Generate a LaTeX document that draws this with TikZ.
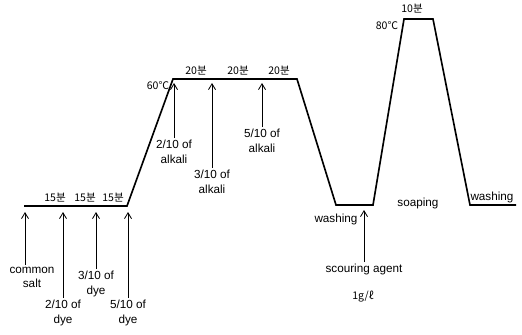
\documentclass[tikz,border=0pt]{standalone}
\usepackage{fontspec}
\setmainfont{Liberation Sans}
\newfontfamily\kr{Noto Sans CJK KR}
\usetikzlibrary{arrows.meta}

\begin{document}
\begin{tikzpicture}[x=0.03cm,y=-0.03cm,
  profile/.style={line width=1.4pt,line join=miter},
  feed/.style={line width=0.6pt,-{Straight Barb[length=5pt,width=6pt,line width=0.7pt]}},
  note/.style={font=\fontsize{10}{12.5}\selectfont,align=center,anchor=north,inner sep=1.5pt},
  stamp/.style={font=\kr\fontsize{9}{10}\selectfont,inner sep=0pt},
]
\useasboundingbox (0,0) rectangle (522,335);

% === temperature / time profile ===
\coordinate (p0) at (24,206);
\coordinate (p1) at (127,206);
\coordinate (p2) at (173,79);
\coordinate (p3) at (297,79);
\coordinate (p4) at (336,205);
\coordinate (p5) at (373,205);
\coordinate (p6) at (404,19);
\coordinate (p7) at (433,19);
\coordinate (p8) at (470,205);
\coordinate (p9) at (516,205);
\draw[profile] (p0) -- (p1) -- (p2) -- (p3) -- (p4) -- (p5) -- (p6) -- (p7) -- (p8) -- (p9);

% times and temperatures
\node[stamp] (t1) at (55,198) {15분};
\node[stamp] (t2) at (85,198) {15분};
\node[stamp] (t3) at (113,198) {15분};
\node[stamp] (t4) at (196,71) {20분};
\node[stamp] (t5) at (238,71) {20분};
\node[stamp] (t6) at (279,71) {20분};
\node[stamp] (t7) at (412,9) {10분};
\node[stamp] (c1) at (158,86) {60℃};
\node[stamp] (c2) at (387,26) {80℃};

% === dyeing bath: salt and dye ===
\coordinate (d0) at (25,212);
\coordinate (d1) at (63,212);
\coordinate (d2) at (96,212);
\coordinate (d3) at (128,212);
\node[note] (salt) at (32,265) {common\\salt};
\node[note] (dye2) at (63,298) {2/10 of\\dye};
\node[note] (dye3) at (96,269) {3/10 of\\dye};
\node[note] (dye5) at (128,298) {5/10 of\\dye};
\draw[feed] (d0 |- salt.north) -- (d0);
\draw[feed] (dye2.north) -- (d1);
\draw[feed] (dye3.north) -- (d2);
\draw[feed] (dye5.north) -- (d3);

% === alkali additions ===
\coordinate (a1) at (174,83);
\coordinate (a2) at (212,83);
\coordinate (a3) at (262,83);
\node[note] (alk2) at (174,138) {2/10 of\\alkali};
\node[note] (alk3) at (212,168) {3/10 of\\alkali};
\node[note] (alk5) at (262,127) {5/10 of\\alkali};
\draw[feed] (alk2.north) -- (a1);
\draw[feed] (alk3.north) -- (a2);
\draw[feed] (alk5.north) -- (a3);

% === after-treatment ===
\coordinate (s1) at (364,210);
\node[note] (scour) at (364,262) {scouring agent};
\node[stamp] (dose) at (363,297) {1g/ℓ};
\draw[feed] (scour.north) -- (s1);
\node[note,anchor=center] (wash1) at (336,219) {washing};
\node[note,anchor=center] (soap) at (418,203) {soaping};
\node[note,anchor=center] (wash2) at (492,197) {washing};

\end{tikzpicture}
\end{document}
